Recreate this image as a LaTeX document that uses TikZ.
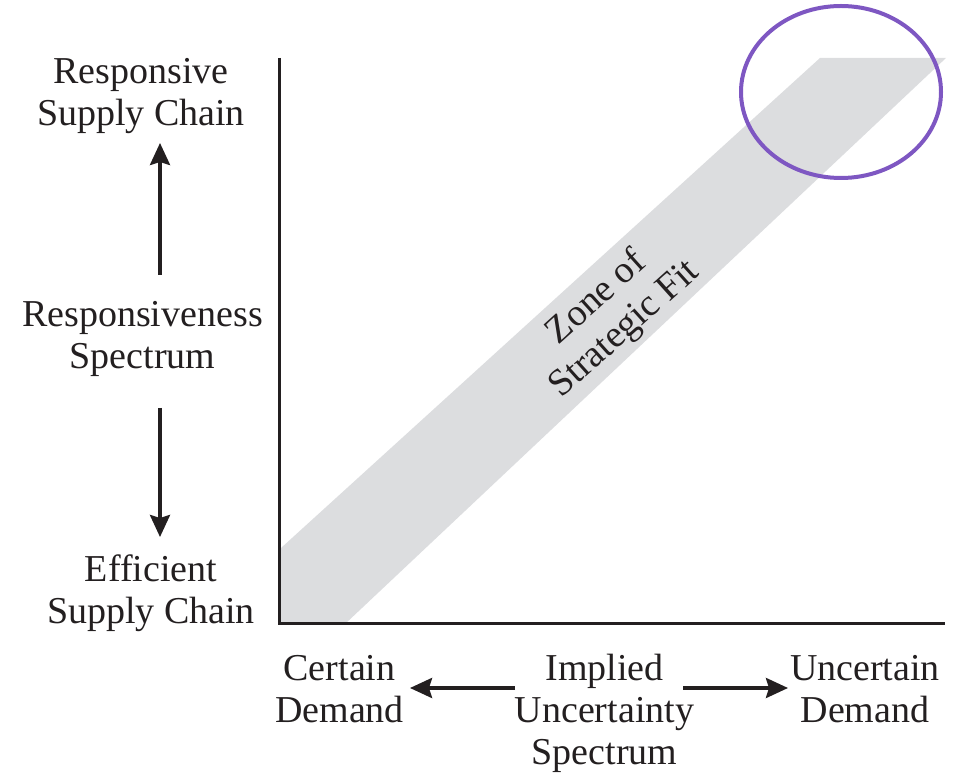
\documentclass[tikz,border=0pt]{standalone}
\usepackage{fontspec}
\setmainfont{Liberation Serif}
\usetikzlibrary{arrows.meta}
\definecolor{ink}{RGB}{35,31,32}
\definecolor{bandgray}{RGB}{220,221,223}
\definecolor{ring}{RGB}{126,87,194}
\begin{document}
\begin{tikzpicture}[x=1pt,y=1pt,
  lbl/.style={align=center, font=\fontsize{38}{42}\selectfont, text=ink, inner sep=0pt},
  arr/.style={draw=ink, line width=3.5pt, -{Stealth[length=22pt,width=20pt,inset=3pt]}},
  axisline/.style={draw=ink, line width=3pt}]
\useasboundingbox (0,0) rectangle (962,774);
\fill[bandgray] (281,226) -- (820,716) -- (946,716) -- (345,150) -- (281,150) -- cycle;
\draw[axisline] (279,716) -- (279,150) -- (945,150);
\draw[draw=ring, line width=4pt] (841,682) ellipse [x radius=100pt, y radius=86pt];
\node[lbl] (rsc) at (141,677.5) {Responsive\\Supply Chain};
\node[lbl] (rs) at (142.5,435.5) {Responsiveness\\Spectrum};
\node[lbl] (esc) at (151,181) {Efficient\\Supply Chain};
\node[lbl] (cd) at (339.5,85) {Certain\\Demand};
\node[lbl] (ius) at (604.5,60.5) {Implied\\Uncertainty\\Spectrum};
\node[lbl] (ud) at (865,85) {Uncertain\\Demand};
\node[lbl, rotate=42] (zone) at (611,460) {Zone of\\Strategic Fit};
\coordinate (upT) at (160,499);
\coordinate (upH) at (160,631);
\coordinate (dnT) at (160,366);
\coordinate (dnH) at (160,237);
\coordinate (lfT) at (515,86);
\coordinate (lfH) at (410,86);
\coordinate (rtT) at (683,86);
\coordinate (rtH) at (788,86);
\draw[arr] (upT) -- (upH);
\draw[arr] (dnT) -- (dnH);
\draw[arr] (lfT) -- (lfH);
\draw[arr] (rtT) -- (rtH);
\end{tikzpicture}
\end{document}
